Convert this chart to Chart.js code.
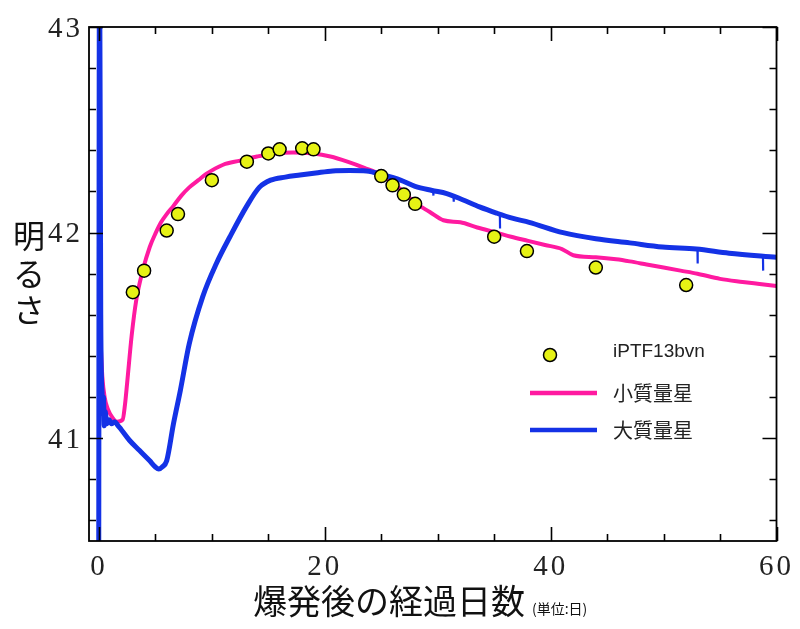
<!DOCTYPE html>
<html>
<head>
<meta charset="utf-8">
<script src="https://cdn.jsdelivr.net/npm/chart.js@4.4.1/dist/chart.umd.min.js"></script>
<style>
html,body{margin:0;padding:0;background:#fff;}
#wrap{width:800px;height:629px;}
</style>
</head>
<body>
<div id="wrap"><canvas id="c" width="800" height="629"></canvas></div>
<script>
// ---------- data ----------
const obsLabel = 'iPTF13bvn';
const obsDays = [3, 4, 6, 7, 10, 13.1, 15, 16, 18, 19, 25, 26, 27, 28, 35, 37.9, 44, 52];
const obsLum  = [41.71, 41.815, 42.01, 42.09, 42.255, 42.345, 42.385, 42.405, 42.41, 42.405, 42.275, 42.23, 42.185, 42.14, 41.98, 41.91, 41.83, 41.745];

const lowLabel = '小質量星';
const lowDays = [0.12, 0.3, 0.5, 0.8, 1.2, 1.6, 2.1, 2.3, 2.5, 2.9, 3.3, 3.9, 4.5, 5.0, 5.5, 6.0, 6.6, 7.3, 8.0, 8.8, 9.5, 11.0, 12.5, 14.0, 15.5, 17.2, 19.0, 20.5, 22.0, 23.5, 25.0, 26.5, 28.0, 29.3, 30.5, 32.0, 33.5, 35.2, 36.5, 38.0, 39.5, 41.0, 42.0, 44.0, 45.8, 47.0, 48.5, 50.0, 51.5, 53.0, 55.0, 57.0, 58.5, 60];
const lowLum  = [41.5, 41.3, 41.2, 41.14, 41.1, 41.08, 41.09, 41.16, 41.27, 41.5, 41.67, 41.82, 41.93, 41.995, 42.05, 42.09, 42.13, 42.18, 42.22, 42.255, 42.285, 42.33, 42.35, 42.37, 42.385, 42.39, 42.385, 42.37, 42.345, 42.315, 42.28, 42.22, 42.145, 42.1, 42.06, 42.05, 42.025, 42.0, 41.98, 41.96, 41.94, 41.92, 41.89, 41.88, 41.87, 41.86, 41.845, 41.83, 41.815, 41.8, 41.775, 41.76, 41.75, 41.74];

const highLabel = '大質量星';
const highDays = [-0.02, 0.05, 0.16, 0.22, 0.28, 0.34, 0.4, 0.47, 0.55, 0.7, 0.9, 1.1, 1.4, 1.7, 2.0, 2.7, 3.6, 4.5, 5.0, 5.3, 5.6, 6.0, 6.6, 7.2, 8.0, 9.2, 10.4, 11.6, 13.1, 14.2, 15.2, 16.5, 17.8, 19.2, 20.7, 22.2, 23.7, 25.2, 26.7, 28.0, 29.5, 30.8, 32.2, 33.7, 35.2, 36.6, 38.1, 41.1, 44.0, 47.0, 49.9, 52.9, 55.8, 60];
const highLum  = [40.3, 43.5, 41.6, 41.3, 41.22, 41.12, 41.2, 41.06, 41.13, 41.07, 41.09, 41.07, 41.08, 41.06, 41.04, 40.99, 40.94, 40.89, 40.86, 40.85, 40.86, 40.89, 41.07, 41.23, 41.46, 41.69, 41.85, 41.98, 42.13, 42.22, 42.255, 42.27, 42.28, 42.29, 42.3, 42.302, 42.3, 42.28, 42.255, 42.225, 42.205, 42.19, 42.16, 42.125, 42.095, 42.07, 42.05, 42.0, 41.97, 41.95, 41.93, 41.92, 41.9, 41.88];

// small numerical glitches (downward spikes) on the high-mass curve
const spikeDays   = [29.6, 31.4, 35.5, 53.0, 58.8];
const spikeTop    = [42.2, 42.18, 42.1, 41.925, 41.89];
const spikeBottom = [42.18, 42.15, 42.02, 41.85, 41.815];

const xTickValues = [0, 20, 40, 60];
const yTickValues = [41, 42, 43];
const xMinorStep = 5;
const yMinorStep = 0.2;
const xTitle = '爆発後の経過日数';
const xTitleUnit = '(単位:日)';
const yTitleChars = ['明', 'る', 'さ'];

// ---------- styles ----------
const PINK = '#ff1aa0';
const BLUE = '#1432e6';
const YELLOW = '#e6f215';
const CJK = '"Noto Sans CJK JP", "Noto Sans", sans-serif';

const toXY = (xs, ys) => xs.map((x, i) => ({x: x, y: ys[i]}));
const spikeData = [];
spikeDays.forEach((d, i) => {
  spikeData.push({x: d, y: spikeTop[i]});
  spikeData.push({x: d + 0.02, y: spikeBottom[i]});
  spikeData.push({x: d + 0.04, y: null});
});

const framePlugin = {
  id: 'frame',
  beforeDraw(chart) { chart.ctx.letterSpacing = '3px'; },
  beforeDatasetsDraw(chart) { chart.ctx.letterSpacing = '0px'; },
  afterDatasetsDraw(chart) {
    const ctx = chart.ctx;
    const a = chart.chartArea;
    const xs = chart.scales.x, ys = chart.scales.y;
    ctx.save();
    ctx.letterSpacing = '0px';
    ctx.strokeStyle = '#000';
    ctx.lineWidth = 1.6;
    ctx.beginPath();
    for (let v = 0; v <= 60 + 1e-9; v += xMinorStep) {
      const px = Math.round(xs.getPixelForValue(v)) + 0.5;
      const len = (xTickValues.includes(v)) ? 14 : 7;
      ctx.moveTo(px, a.bottom); ctx.lineTo(px, a.bottom - len);
      ctx.moveTo(px, a.top); ctx.lineTo(px, a.top + len);
    }
    for (let k = 0; k <= 12; k++) {
      const v = 40.6 + k * yMinorStep;
      const py = Math.round(ys.getPixelForValue(v)) + 0.5;
      const major = yTickValues.some(t => Math.abs(t - v) < 1e-6);
      const len = major ? 14 : 7;
      ctx.moveTo(a.left, py); ctx.lineTo(a.left + len, py);
      ctx.moveTo(a.right, py); ctx.lineTo(a.right - len, py);
    }
    ctx.stroke();
    ctx.lineWidth = 1.8;
    ctx.strokeRect(a.left, a.top, a.right - a.left, a.bottom - a.top);

    // legend
    const ds = chart.data.datasets;
    const lx0 = 530, lx1 = 597, tx = 613;
    const rows = [355, 393, 430];
    ctx.beginPath();
    ctx.arc(550, rows[0], 6.5, 0, Math.PI * 2);
    ctx.fillStyle = YELLOW; ctx.fill();
    ctx.lineWidth = 1.5; ctx.strokeStyle = '#000'; ctx.stroke();
    ctx.lineCap = 'butt';
    ctx.lineWidth = 4.5;
    ctx.strokeStyle = PINK;
    ctx.beginPath(); ctx.moveTo(lx0, rows[1]); ctx.lineTo(lx1, rows[1]); ctx.stroke();
    ctx.strokeStyle = BLUE;
    ctx.beginPath(); ctx.moveTo(lx0, rows[2]); ctx.lineTo(lx1, rows[2]); ctx.stroke();
    ctx.fillStyle = '#222';
    ctx.textAlign = 'left';
    ctx.textBaseline = 'middle';
    ctx.font = '19px "Liberation Sans", Arial, sans-serif';
    ctx.fillText(ds[0].label, tx, rows[0] - 3);
    ctx.font = '20px ' + CJK;
    ctx.fillText(ds[3].label, tx, rows[1]);
    ctx.fillText(ds[1].label, tx, rows[2]);
    ctx.restore();
  },
  afterDraw(chart) {
    const ctx = chart.ctx;
    ctx.save();
    ctx.letterSpacing = '0px';
    ctx.fillStyle = '#111';
    ctx.textBaseline = 'alphabetic';
    ctx.textAlign = 'left';
    ctx.font = '34px ' + CJK;
    const x0 = 253;
    ctx.fillText(xTitle, x0, 614);
    const w = ctx.measureText(xTitle).width;
    ctx.font = '14px ' + CJK;
    ctx.fillText(xTitleUnit, x0 + w + 7, 614);
    ctx.font = '32px ' + CJK;
    ctx.textAlign = 'center';
    ctx.textBaseline = 'middle';
    const ycs = [236, 274, 310];
    yTitleChars.forEach((ch, i) => ctx.fillText(ch, 29, ycs[i]));
    ctx.restore();
  }
};

new Chart(document.getElementById('c'), {
  type: 'line',
  data: {
    datasets: [
      {
        label: obsLabel,
        data: toXY(obsDays, obsLum),
        showLine: false,
        pointRadius: 6.5,
        pointHoverRadius: 6.5,
        pointBackgroundColor: YELLOW,
        pointBorderColor: '#000',
        pointBorderWidth: 1.5,
        order: 0
      },
      {
        label: highLabel,
        data: toXY(highDays, highLum),
        borderColor: BLUE,
        borderWidth: 5,
        pointRadius: 0,
        cubicInterpolationMode: 'monotone',
        fill: false,
        order: 1
      },
      {
        label: highLabel + ' (spikes)',
        data: spikeData,
        borderColor: BLUE,
        borderWidth: 2.2,
        pointRadius: 0,
        spanGaps: false,
        tension: 0,
        fill: false,
        order: 1
      },
      {
        label: lowLabel,
        data: toXY(lowDays, lowLum),
        borderColor: PINK,
        borderWidth: 4,
        pointRadius: 0,
        cubicInterpolationMode: 'monotone',
        fill: false,
        order: 2
      }
    ]
  },
  options: {
    responsive: false,
    devicePixelRatio: 1,
    animation: false,
    events: [],
    layout: {padding: {left: 0, right: 23, top: 27, bottom: 0}},
    plugins: {legend: {display: false}, tooltip: {enabled: false}},
    scales: {
      x: {
        type: 'linear',
        min: -0.88,
        max: 60,
        grid: {display: false, drawTicks: false},
        border: {display: false},
        afterBuildTicks: s => { s.ticks = xTickValues.map(v => ({value: v})); },
        afterFit: s => { s.height = 88; },
        ticks: {
          padding: 9,
          maxRotation: 0,
          autoSkip: false,
          color: '#222',
          font: {family: '"Liberation Serif", "DejaVu Serif", serif', size: 29}
        }
      },
      y: {
        type: 'linear',
        min: 40.5,
        max: 43,
        grid: {display: false, drawTicks: false},
        border: {display: false},
        afterBuildTicks: s => { s.ticks = yTickValues.map(v => ({value: v})); },
        afterFit: s => { s.width = 89; },
        ticks: {
          padding: 6,
          labelOffset: 2,
          autoSkip: false,
          color: '#222',
          font: {family: '"Liberation Serif", "DejaVu Serif", serif', size: 29}
        }
      }
    }
  },
  plugins: [framePlugin]
});
</script>
</body>
</html>
